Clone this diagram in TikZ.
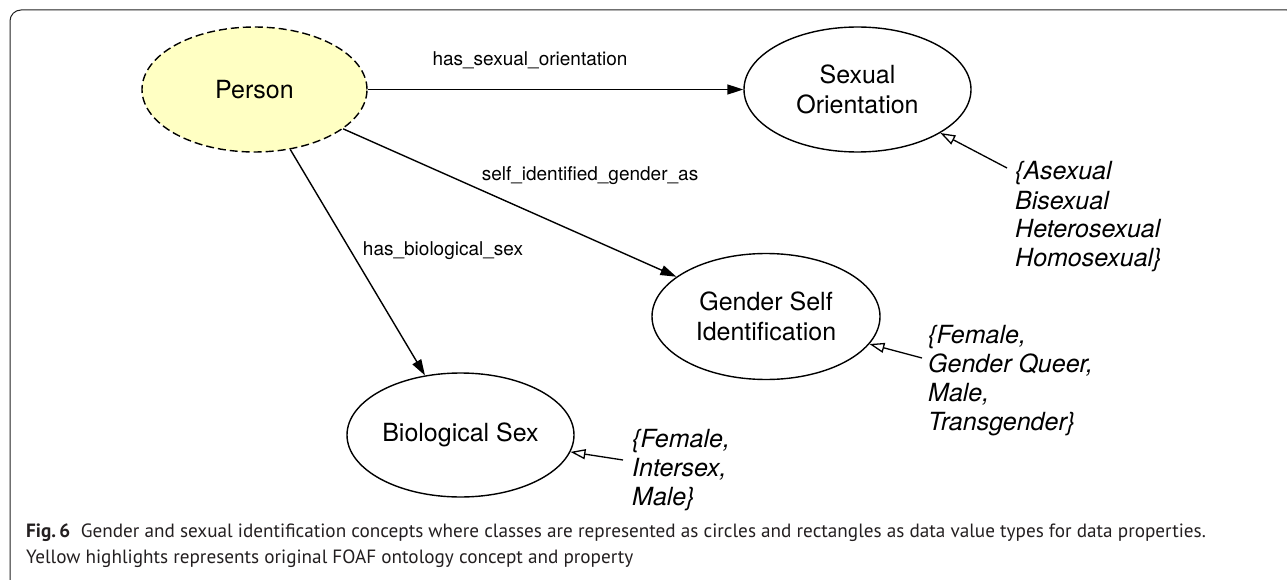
\documentclass[tikz,border=0pt]{standalone}
\usepackage{fontspec}
\setmainfont{TeX Gyre Heros}
\newfontfamily\capfont{PT Sans}
\usetikzlibrary{shapes.geometric,arrows.meta}
\definecolor{personyellow}{HTML}{FFFFC3}
\definecolor{framegray}{HTML}{222222}
\definecolor{captext}{HTML}{231F20}
\begin{document}
\begin{tikzpicture}[x=1pt,y=-1pt,
  cls/.style={ellipse, draw, line width=1.4pt, inner sep=0pt, align=center,
    font=\fontsize{25}{30}\selectfont},
  foaf/.style={cls, fill=personyellow, dash pattern=on 8pt off 4pt},
  proplabel/.style={anchor=base, inner sep=0pt, font=\fontsize{19}{23}\selectfont},
  valtext/.style={anchor=base west, inner sep=0pt, font=\fontsize{25}{29}\selectfont\itshape},
  objarrow/.style={line width=1.4pt, -{Triangle[length=16pt,width=10pt]}},
  valarrow/.style={line width=1.3pt, -{Triangle[open,length=15pt,width=10pt]}},
  captionstyle/.style={anchor=base west, inner sep=0pt, text=captext,
    font=\capfont\fontsize{19.2}{26}\selectfont}]
\useasboundingbox (0,0) rectangle (1287,580);
\clip (0,0) rectangle (1287,580);
\draw[framegray, line width=1pt, rounded corners=11pt] (10,10) rectangle (1298,594);

% classes
\node[foaf, minimum width=225pt, minimum height=125pt] (person) at (254.5,89.5) {Person};
\node[cls, minimum width=227pt, minimum height=125pt] (so) at (857.5,89.5) {Sexual\\Orientation};
\node[cls, minimum width=228pt, minimum height=126pt] (gsi) at (766,316.5) {Gender Self\\Identification};
\node[cls, minimum width=227pt, minimum height=124pt] (bio) at (460.5,435) {Biological Sex};

% object properties
\draw[objarrow] (person) -- (so);
\draw[objarrow] (person) -- (gsi);
\draw[objarrow] (person) -- (bio);
\node[proplabel] (l1) at (530,66) {has\_sexual\_orientation};
\node[proplabel] (l2) at (590,181) {self\_identified\_gender\_as};
\node[proplabel] (l3) at (443,255) {has\_biological\_sex};

% data values
\node[valtext] (v1) at (1015,180) {\begin{tabular}[t]{@{}l@{}}\{Asexual\\Bisexual\\Heterosexual\\Homosexual\}\end{tabular}};
\node[valtext] (v2) at (928,343) {\begin{tabular}[t]{@{}l@{}}\{Female,\\Gender Queer,\\Male,\\Transgender\}\end{tabular}};
\node[valtext] (v3) at (632,447) {\begin{tabular}[t]{@{}l@{}}\{Female,\\Intersex,\\Male\}\end{tabular}};
\coordinate (s1) at (1007,168);
\coordinate (s2) at (922,358);
\coordinate (s3) at (623,460);
\draw[valarrow] (s1) -- (so);
\draw[valarrow] (s2) -- (gsi);
\draw[valarrow] (s3) -- (bio);

% caption
\node[captionstyle] (cap) at (26,537) {\begin{tabular}[t]{@{}l@{}}\textbf{Fig.\,6}\hspace{0.55em}Gender and sexual identification concepts where classes are represented as circles and rectangles as data value types for data properties.\\Yellow highlights represents original FOAF ontology concept and property\end{tabular}};
\end{tikzpicture}
\end{document}
